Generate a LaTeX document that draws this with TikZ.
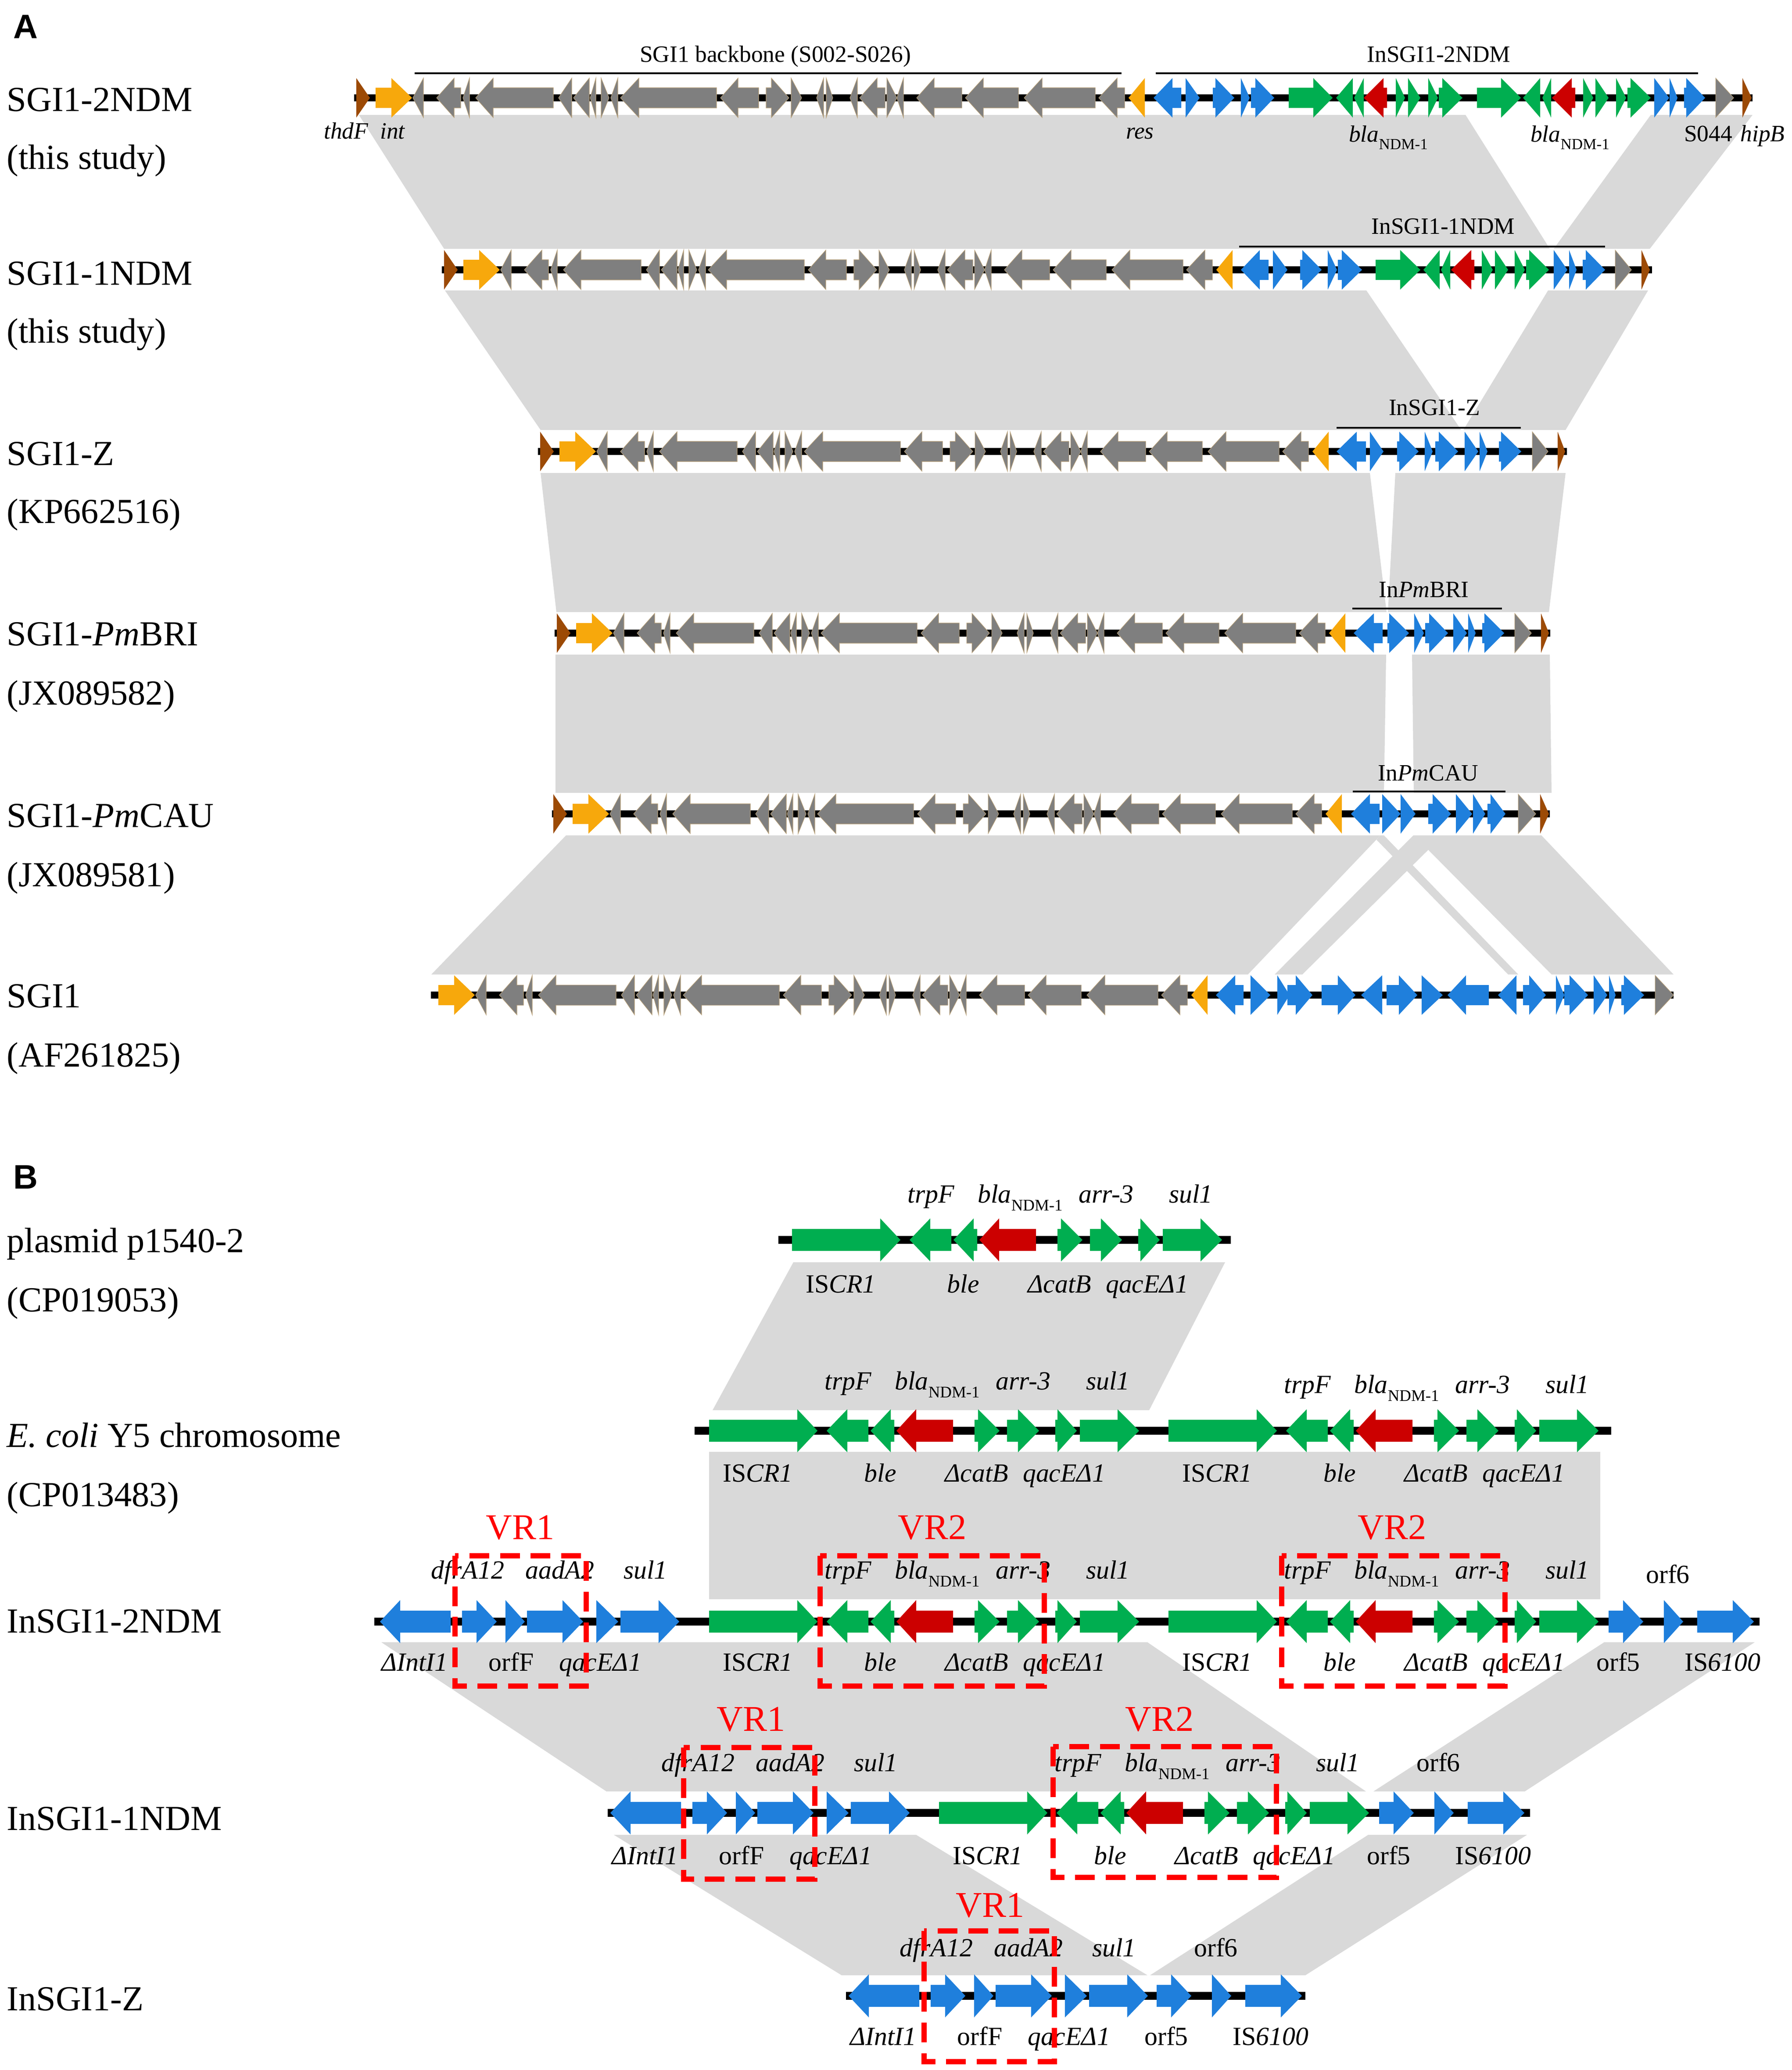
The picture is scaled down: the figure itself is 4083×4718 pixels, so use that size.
\documentclass[tikz,border=0pt]{standalone}
\usepackage{fontspec}
\setmainfont{Liberation Serif}
\newfontfamily\panelfont{Liberation Sans}

\definecolor{GeneGray}{HTML}{7F7F7F}
\definecolor{GeneEdge}{HTML}{B8A078}
\definecolor{GeneOrange}{HTML}{F7A80C}
\definecolor{GeneBrown}{HTML}{9C4A05}
\definecolor{GeneBlue}{HTML}{1F7FDC}
\definecolor{GeneGreen}{HTML}{00AE50}
\definecolor{GeneRed}{HTML}{CC0000}
\definecolor{BandGray}{HTML}{D9D9D9}
\definecolor{VRRed}{HTML}{FF0000}

\newcommand{\blaNDM}{\textit{bla}\raisebox{-5.2pt}{\fontsize{10.5}{12}\selectfont NDM-1}}
\def\BodyH{23}
\def\HeadH{45}

% back / neck / tip of each gene, in a row that is already shifted to its y
\newcommand{\GeneList}[2]{%
  \foreach \xa/\xb/\xc in {#2}{%
    \fill[#1] (\xa,\BodyH) -- (\xb,\BodyH) -- (\xb,\HeadH) -- (\xc,0)
      -- (\xb,-\HeadH) -- (\xb,-\BodyH) -- (\xa,-\BodyH) -- cycle;}}

\newcommand{\Backbone}[1]{%
  \begin{scope}[shift={(#1,0)}]
    \GeneList{GeneOrange}{856/892/939,2609/2609/2572}
    \GeneList{GrayGeneStyle}{965/965/941,1050/1035/995,1070/1070/1055,1261/1124/1084,
      1303/1303/1273,1343/1343/1307,1358/1358/1345,1370/1370/1388,1408/1408/1392,
      1633/1456/1414,1729/1682/1642,1746/1758/1798,1803/1803/1827,1877/1877/1861,
      1883/1883/1898,1954/1954/1937,2017/1999/1959,2021/2021/2044,2059/2059/2044,
      2192/2129/2089,2321/2241/2200,2496/2375/2334,2563/2546/2504}
  \end{scope}}

% #1 name, #2 shift, #3 baseline above, #4 baseline below
\newcommand{\BlueSet}[4]{%
  \begin{scope}[shift={(#2,0)}]
    \GeneList{GeneBlue}{1027/912/866,1053/1086/1132,1152/1152/1196,1201/1282/1329,
      1359/1359/1409,1414/1501/1548}
    \node[GeneLabelStyle](#1_dfrA) at (1066,#3) {\textit{dfrA12}};
    \node[GeneLabelStyle](#1_aadA) at (1276,#3) {\textit{aadA2}};
    \node[GeneLabelStyle](#1_sulb) at (1471,#3) {\textit{sul1}};
    \node[GeneLabelStyle](#1_intI) at (945,#4) {\textit{ΔIntI1}};
    \node[GeneLabelStyle](#1_orfF) at (1165,#4) {orfF};
    \node[GeneLabelStyle](#1_qacb) at (1368,#4) {\textit{qacEΔ1}};
  \end{scope}}

\newcommand{\GreenSet}[4]{%
  \begin{scope}[shift={(#2,0)}]
    \GeneList{GeneGreen}{1616/1817/1863,1979/1931/1884,2038/2030/1984,2221/2229/2278,
      2295/2320/2368,2405/2410/2454,2461/2547/2596}
    \GeneList{GeneRed}{2172/2088/2043}
    \node[GeneLabelStyle](#1_trpF) at (1933,#3) {\textit{trpF}};
    \node[GeneLabelStyle](#1_bla) at (2136,#3) {\blaNDM};
    \node[GeneLabelStyle](#1_arr) at (2332,#3) {\textit{arr-3}};
    \node[GeneLabelStyle](#1_sul) at (2525,#3) {\textit{sul1}};
    \node[GeneLabelStyle](#1_IS) at (1727,#4) {IS\textit{CR1}};
    \node[GeneLabelStyle](#1_ble) at (2006,#4) {\textit{ble}};
    \node[GeneLabelStyle](#1_cat) at (2226,#4) {\textit{ΔcatB}};
    \node[GeneLabelStyle](#1_qac) at (2425,#4) {\textit{qacEΔ1}};
  \end{scope}}

\newcommand{\EndSet}[4]{%
  \begin{scope}[shift={(#2,0)}]
    \GeneList{GeneBlue}{3666/3699/3745,3792/3792/3836,3868/3949/3997}
    \node[GeneLabelStyle](#1_orfs) at (3801,#3) {orf6};
    \node[GeneLabelStyle](#1_orfv) at (3688,#4) {orf5};
    \node[GeneLabelStyle](#1_ISs) at (3926,#4) {IS\textit{6100}};
  \end{scope}}

% #1 name, #2 start, #3 end, #4 y
\newcommand{\Chrom}[4]{%
  \coordinate (#1_a) at (#2,#4);
  \coordinate (#1_b) at (#3,#4);
  \draw[ChromStyle] (#1_a) -- (#1_b);}

\newcommand{\TitleBar}[4]{%
  \coordinate (#1_a) at (#2,#4);
  \coordinate (#1_b) at (#3,#4);
  \draw[TitleBarStyle] (#1_a) -- (#1_b);}

\begin{document}
\begin{tikzpicture}[x=0.01cm,y=-0.01cm]
  \useasboundingbox (0,0) rectangle (4083,4718);
  \tikzset{ChromStyle/.style    = {line width   = 4.6pt,
                                   black}}
  \tikzset{TitleBarStyle/.style = {line width   = 1.2pt,
                                   black}}
  \tikzset{BandStyle/.style     = {fill         = BandGray}}
  \tikzset{GrayGeneStyle/.style = {fill         = GeneGray,
                                   draw         = GeneEdge,
                                   line width   = 0.3pt}}
  \tikzset{RowLabelStyle/.style = {anchor       = base west,
                                   inner sep    = 0pt,
                                   font         = \fontsize{22.8}{28}\selectfont}}
  \tikzset{TitleStyle/.style    = {anchor       = base,
                                   inner sep    = 0pt,
                                   font         = \fontsize{15.2}{18}\selectfont}}
  \tikzset{GeneLabelStyle/.style = {anchor      = base,
                                   inner sep    = 0pt,
                                   font         = \fontsize{17}{20}\selectfont}}
  \tikzset{VRLabelStyle/.style  = {anchor       = base,
                                   inner sep    = 0pt,
                                   text         = VRRed,
                                   font         = \fontsize{23.5}{28}\selectfont}}
  \tikzset{VRBoxStyle/.style    = {draw         = VRRed,
                                   line width   = 3.2pt,
                                   dash pattern = on 12.8pt off 7pt}}
  \tikzset{PanelStyle/.style    = {anchor       = base west,
                                   inner sep    = 0pt,
                                   font         = \panelfont\bfseries\fontsize{22}{26}\selectfont}}

  % grey bands, panel A
  \fill[BandStyle] (818,262) -- (3340,262) -- (3532,567) -- (1012,567) -- cycle;
  \fill[BandStyle] (3762,262) -- (3994,262) -- (3760,567) -- (3541,567) -- cycle;
  \fill[BandStyle] (1014,662) -- (3114,662) -- (3330,980) -- (1232,980) -- cycle;
  \fill[BandStyle] (3528,662) -- (3756,662) -- (3568,980) -- (3335,980) -- cycle;
  \fill[BandStyle] (1232,1078) -- (3122,1078) -- (3160,1395) -- (1268,1395) -- cycle;
  \fill[BandStyle] (3180,1078) -- (3568,1078) -- (3530,1395) -- (3163,1395) -- cycle;
  \fill[BandStyle] (1266,1492) -- (3159,1492) -- (3154,1807) -- (1266,1807) -- cycle;
  \fill[BandStyle] (3218,1492) -- (3532,1492) -- (3536,1807) -- (3222,1807) -- cycle;
  \fill[BandStyle] (1290,1904) -- (3146,1904) -- (2844,2221) -- (983,2221) -- cycle;
  \fill[BandStyle] (3221,1904) -- (3513,1904) -- (3814,2221) -- (3536,2221) -- (3255,1937)
    -- (2968,2221) -- (2905,2221) -- cycle;
  \fill[BandStyle] (3146,1904) -- (3154,1904) -- (3460,2221) -- (3437,2221) -- (3137,1914) -- cycle;

  % grey bands, panel B
  \fill[BandStyle] (1808,2877) -- (2792,2877) -- (2619,3214) -- (1624,3214) -- cycle;
  \fill[BandStyle] (1616,3309) rectangle (3647,3645);
  \fill[BandStyle] (869,3743) -- (2615,3743) -- (3113,4083) -- (1382,4083) -- cycle;
  \fill[BandStyle] (3656,3743) -- (3999,3743) -- (3475,4083) -- (3130,4083) -- cycle;
  \fill[BandStyle] (1399,4182) -- (2088,4182) -- (2615,4502) -- (1918,4502) -- cycle;
  \fill[BandStyle] (3118,4182) -- (3480,4182) -- (2975,4502) -- (2621,4502) -- cycle;

  % panel A
  \node[PanelStyle](panel_A) at (30,88) {A};
  \node[RowLabelStyle](row_a) at (15,253) {SGI1-2NDM};
  \node[RowLabelStyle](row_ab) at (15,385) {(this study)};
  \node[RowLabelStyle](row_c) at (15,649) {SGI1-1NDM};
  \node[RowLabelStyle](row_cb) at (15,781) {(this study)};
  \node[RowLabelStyle](row_d) at (15,1060) {SGI1-Z};
  \node[RowLabelStyle](row_db) at (15,1192) {(KP662516)};
  \node[RowLabelStyle](row_e) at (15,1471) {SGI1-\textit{Pm}BRI};
  \node[RowLabelStyle](row_eb) at (15,1606) {(JX089582)};
  \node[RowLabelStyle](row_f) at (15,1885) {SGI1-\textit{Pm}CAU};
  \node[RowLabelStyle](row_fb) at (15,2020) {(JX089581)};
  \node[RowLabelStyle](row_g) at (15,2296) {SGI1};
  \node[RowLabelStyle](row_gb) at (15,2431) {(AF261825)};

  \Chrom{chrom_a}{807}{3994}{223}
  \Chrom{chrom_c}{1007}{3765}{615}
  \Chrom{chrom_d}{1226}{3571}{1029}
  \Chrom{chrom_e}{1264}{3533}{1443}
  \Chrom{chrom_f}{1258}{3532}{1855}
  \Chrom{chrom_g}{982}{3814}{2268}

  \TitleBar{bar_back}{945}{2556}{167}
  \TitleBar{bar_a}{2634}{3870}{167}
  \TitleBar{bar_c}{2824}{3658}{562}
  \TitleBar{bar_d}{3046}{3466}{975}
  \TitleBar{bar_e}{3082}{3423}{1387}
  \TitleBar{bar_f}{3083}{3431}{1804}

  \node[TitleStyle](title_back) at (1767,142) {SGI1 backbone (S002-S026)};
  \node[TitleStyle](title_a) at (3279,142) {InSGI1-2NDM};
  \node[TitleStyle](title_c) at (3289,533) {InSGI1-1NDM};
  \node[TitleStyle](title_d) at (3269,946) {InSGI1-Z};
  \node[TitleStyle](title_e) at (3245,1361) {In\textit{Pm}BRI};
  \node[TitleStyle](title_f) at (3255,1779) {In\textit{Pm}CAU};

  \begin{scope}[shift={(0,223)}]
    \GeneList{GeneBrown}{812/812/843,3971/3971/3992}
    \Backbone{0}
    \GeneList{GeneBlue}{2692/2672/2629,2702/2702/2734,2764/2770/2813,2828/2828/2848,
      2851/2861/2904,3770/3770/3804,3805/3805/3823,3838/3843/3886}
    \GeneList{GeneGreen}{2937/2993/3037,3083/3083/3045,3108/3108/3086,3181/3181/3202,
      3209/3209/3237,3255/3255/3277,3279/3287/3333,3366/3421/3466,3510/3510/3471,
      3535/3535/3515,3608/3608/3631,3636/3636/3666,3683/3683/3706,3709/3716/3762}
    \GeneList{GeneRed}{3161/3153/3108,3590/3582/3537}
    \GeneList{GrayGeneStyle}{3910/3910/3951}
  \end{scope}

  \begin{scope}[shift={(0,615)}]
    \GeneList{GeneBrown}{1012/1012/1043,3741/3741/3760}
    \Backbone{200}
    \GeneList{GeneBlue}{2891/2871/2828,2901/2901/2934,2963/2968/3012,3026/3026/3047,
      3049/3058/3104,3541/3541/3572,3576/3576/3593,3607/3614/3658}
    \GeneList{GeneGreen}{3135/3191/3237,3281/3281/3244,3305/3305/3284,3377/3377/3402,
      3407/3407/3437,3452/3452/3475,3478/3485/3530}
    \GeneList{GeneRed}{3360/3353/3307}
    \GeneList{GrayGeneStyle}{3681/3681/3718}
  \end{scope}

  \begin{scope}[shift={(0,1029)}]
    \GeneList{GeneBrown}{1231/1231/1262,3550/3550/3567}
    \Backbone{419}
    \GeneList{GeneBlue}{3113/3092/3046,3122/3122/3153,3184/3189/3233,3247/3247/3265,
      3271/3279/3323,3338/3338/3369,3372/3372/3390,3416/3421/3467}
    \GeneList{GrayGeneStyle}{3492/3492/3528}
  \end{scope}

  \begin{scope}[shift={(0,1443)}]
    \GeneList{GeneBrown}{1269/1269/1300,3512/3512/3530}
    \Backbone{457}
    \GeneList{GeneBlue}{3151/3131/3085,3162/3166/3211,3223/3223/3245,3248/3257/3300,
      3312/3312/3343,3346/3346/3363,3378/3383/3428}
    \GeneList{GrayGeneStyle}{3452/3452/3490}
  \end{scope}

  \begin{scope}[shift={(0,1855)}]
    \GeneList{GeneBrown}{1261/1261/1292,3510/3510/3530}
    \Backbone{449}
    \GeneList{GeneBlue}{3144/3122/3079,3150/3150/3192,3192/3192/3226,3255/3265/3307,
      3318/3318/3355,3357/3357/3385,3390/3397/3431}
    \GeneList{GrayGeneStyle}{3460/3460/3500}
  \end{scope}

  \begin{scope}[shift={(0,2268)}]
    \Backbone{143}
    \GeneList{GeneBlue}{2834/2815/2771,2850/2850/2895,2911/2911/2939,2934/2953/2991,
      3012/3049/3089,3150/3150/3102,3160/3188/3230,3240/3240/3288,3393/3341/3299,
      3456/3456/3414,3471/3485/3523,3546/3546/3565,3565/3577/3619,3632/3632/3663,
      3667/3667/3682,3695/3701/3747}
    \GeneList{GrayGeneStyle}{3772/3772/3814}
  \end{scope}

  \node[TitleStyle](map_thdF) at (789,317) {\textit{thdF}};
  \node[TitleStyle](map_int) at (895,317) {\textit{int}};
  \node[TitleStyle](map_res) at (2598,317) {\textit{res}};
  \node[TitleStyle](map_blaa) at (3164,323) {\textit{bla}\raisebox{-5pt}{\fontsize{10}{12}\selectfont NDM-1}};
  \node[TitleStyle](map_blab) at (3578,323) {\textit{bla}\raisebox{-5pt}{\fontsize{10}{12}\selectfont NDM-1}};
  \node[TitleStyle](map_S) at (3893,322) {S044};
  \node[TitleStyle](map_hipB) at (4017,322) {\textit{hipB}};

  % panel B
  \def\BodyH{25}
  \def\HeadH{49}
  \node[PanelStyle](panel_B) at (30,2709) {B};
  \node[RowLabelStyle](row_h) at (15,2854) {plasmid p1540-2};
  \node[RowLabelStyle](row_hb) at (15,2989) {(CP019053)};
  \node[RowLabelStyle](row_i) at (15,3298) {\textit{E. coli} Y5 chromosome};
  \node[RowLabelStyle](row_ib) at (15,3433) {(CP013483)};
  \node[RowLabelStyle](row_j) at (15,3721) {InSGI1-2NDM};
  \node[RowLabelStyle](row_k) at (15,4171) {InSGI1-1NDM};
  \node[RowLabelStyle](row_l) at (15,4582) {InSGI1-Z};

  \tikzset{ChromStyle/.append style = {line width = 5.1pt}}
  \Chrom{chrom_h}{1774}{2805}{2826}
  \Chrom{chrom_i}{1583}{3672}{3261}
  \Chrom{chrom_j}{853}{4010}{3696}
  \Chrom{chrom_k}{1385}{3487}{4132}
  \Chrom{chrom_l}{1928}{2975}{4549}

  \begin{scope}[shift={(0,2826)}]
    \GreenSet{p_a}{189}{-85}{120}
  \end{scope}

  \begin{scope}[shift={(0,3261)}]
    \GreenSet{y_a}{0}{-94}{116}
    \GreenSet{y_b}{1047}{-86}{116}
  \end{scope}

  \begin{scope}[shift={(0,3696)}]
    \BlueSet{j_a}{0}{-98}{112}
    \GreenSet{j_b}{0}{-98}{112}
    \GreenSet{j_c}{1047}{-98}{112}
    \EndSet{j_d}{0}{-88}{112}
  \end{scope}

  \begin{scope}[shift={(0,4132)}]
    \BlueSet{k_a}{525}{-95}{117}
    \GreenSet{k_b}{524}{-95}{117}
    \EndSet{k_c}{-523}{-95}{117}
  \end{scope}

  \begin{scope}[shift={(0,4549)}]
    \BlueSet{l_a}{1068}{-90}{112}
    \EndSet{l_b}{-1030}{-90}{112}
  \end{scope}

  \draw[VRBoxStyle] (1037,3546) rectangle (1336,3843);
  \draw[VRBoxStyle] (1869,3546) rectangle (2380,3843);
  \draw[VRBoxStyle] (2921,3546) rectangle (3430,3843);
  \draw[VRBoxStyle] (1558,3983) rectangle (1857,4283);
  \draw[VRBoxStyle] (2400,3981) rectangle (2909,4279);
  \draw[VRBoxStyle] (2106,4401) rectangle (2403,4699);
  \node[VRLabelStyle](vr_a) at (1186,3508) {VR1};
  \node[VRLabelStyle](vr_b) at (2125,3508) {VR2};
  \node[VRLabelStyle](vr_c) at (3173,3508) {VR2};
  \node[VRLabelStyle](vr_d) at (1712,3945) {VR1};
  \node[VRLabelStyle](vr_e) at (2643,3945) {VR2};
  \node[VRLabelStyle](vr_f) at (2257,4369) {VR1};
\end{tikzpicture}
\end{document}
